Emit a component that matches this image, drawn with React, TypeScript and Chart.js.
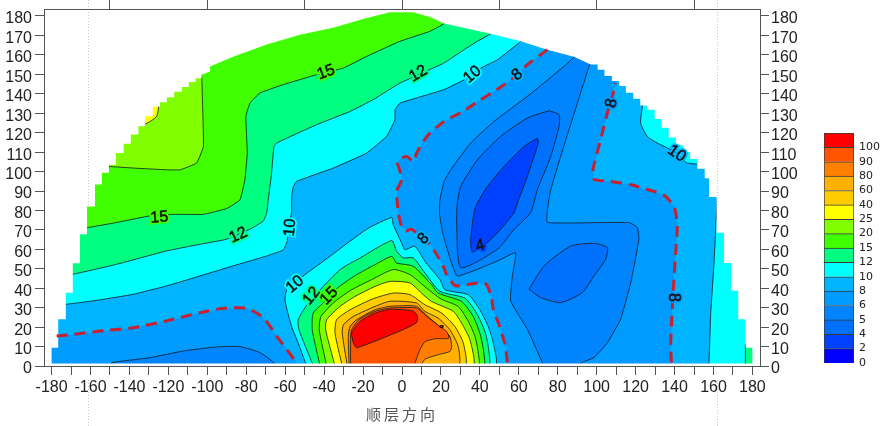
import React, { useEffect, useRef } from "react";
import { Chart, registerables } from "chart.js";

Chart.register(...registerables);

type P = [number, number];

const xTickValues = [-180,-170,-160,-150,-140,-130,-120,-110,-100,-90,-80,-70,-60,-50,-40,-30,-20,-10,0,10,20,30,40,50,60,70,80,90,100,110,120,130,140,150,160,170,180];
const yTickValues = [0,10,20,30,40,50,60,70,80,90,100,110,120,130,140,150,160,170,180];
const topTickValues = [-150,-100,-50,0,50,100,150];
const xTitle = "顺层方向";

const legendLabels = ["0","2","4","5","6","8","10","12","15","20","25","40","60","80","90","100"];
const legendColors = ["#0000ff","#0040ff","#0070ff","#0085ff","#009bff","#00b4ff","#00ffff","#00ff80","#40ff00","#80ff00","#ffff00","#ffcc00","#ffb000","#ff8000","#ff5500","#ff0000"];
const bandValues = legendLabels.map(() => 1);

const C2 = "#0040ff", C4 = "#0070ff", C5 = "#0085ff", C6 = "#009bff", C8 = "#00b4ff", C10 = "#00ffff",
  C12 = "#00ff80", C15 = "#40ff00", C20 = "#80ff00", C25 = "#ffff00", C40 = "#ffcc00", C60 = "#ffb000",
  C80 = "#ff8000", C90 = "#ff5500", C100 = "#ff0000";

const domeOutline: P[] = [[-180,1.3],[-180,9.4],[-176.6,9.4],[-176.6,24],[-172.7,24],[-172.7,37.7],[-169.1,37.7],[-169.1,52.8],[-165.4,52.8],[-165.4,67.7],[-161.8,67.7],[-161.8,82],[-157.7,82],[-157.7,93.3],[-154.2,93.3],[-154.2,99.4],[-150.5,99.4],[-150.5,103.5],[-146.9,103.5],[-146.9,109.6],[-143,109.6],[-143,114.3],[-139.3,114.3],[-139.3,119],[-135.4,119],[-135.4,123.3],[-132,123.3],[-132,128.4],[-128,128.4],[-128,133.3],[-124.3,133.3],[-124.3,135.6],[-120.8,135.6],[-120.8,138.2],[-117,138.2],[-117,141],[-113,141],[-113,143.5],[-109.5,143.5],[-109.5,146],[-106,146],[-106,148],[-102.9,148],[-102.9,149.8],[-98.6,151.5],[-98.6,154],[-86.8,159],[-69.5,165.3],[-52.4,170.4],[-35.4,173.9],[-18.1,179],[-6.2,181.9],[5.7,181.9],[14.4,179.5],[21.6,176.1],[45.5,170.9],[61,167],[74.6,162.7],[88.3,159],[96.9,155],[100.5,155],[100.5,152.3],[104,152.3],[104,149.2],[107.8,149.2],[107.8,146.6],[111.5,146.6],[111.5,144],[115,144],[115,140.5],[118.8,140.5],[118.8,137.4],[122.4,137.4],[122.4,134],[126,134],[126,131.8],[129.8,131.8],[129.8,127],[133.4,127],[133.4,122.5],[137,122.5],[137,117.5],[140.7,117.5],[140.7,113.5],[144.4,113.5],[144.4,110],[148,110],[148,106.5],[151.7,106.5],[151.7,101.5],[155.5,101.5],[155.5,96.5],[157.7,96.5],[157.7,86.9],[161.6,86.9],[161.6,68.5],[165.4,68.5],[165.4,53],[169.1,53],[169.1,38.7],[172.7,38.7],[172.7,24],[176.5,24],[176.5,9.4],[180,9.4],[180,1.3]];

const dash8Left: P[] = [[-177.4,15.4],[-168.8,16.3],[-155.1,18],[-138,19.7],[-120.9,23.2],[-103.8,27.4],[-91.8,29.7],[-79.8,29.7],[-71.2,24.9],[-64.4,15.4],[-59.3,8.6],[-54.1,1.7]];
const dash8Centre: P[] = [[74.7,162.7],[64.4,155],[59.3,149.8],[50.7,143.5],[40.4,136.9],[30.2,130.4],[21.6,125.8],[14.3,119.8],[11,115.5],[7.5,109.5],[5.8,105.2],[2.4,107.8],[-1,106.4],[-2.4,104.4],[-1.5,101.8],[-0.2,95.8],[-2.8,89.8],[-2.4,83.8],[-1.9,78.6],[-0.2,72],[2,69.5],[4.9,70.3],[14.4,62.4],[17.8,57.3],[21.2,51.3],[22.9,47],[27.2,41.3],[33.2,41.8],[39.2,42.7],[43.5,41.8],[46,35],[46.9,29],[49.5,22.1],[51.2,17],[52.9,11],[53.8,5],[54.1,1.7]];
const dash8Right: P[] = [[138.4,1.7],[138,10.3],[138.4,20.6],[139.7,44.6],[140.6,58.3],[141.4,72],[140.6,78.9],[139.7,82.1],[135.5,87.2],[129.5,89.8],[117.5,93.2],[107.2,94.9],[98.6,96.1],[98.1,100.9],[102.9,119.8],[105.5,130.1],[108.1,138.7],[109.8,145.5]];

const region8Left: P[] = [[-184,15.4],...dash8Left,[-53,0],[-184,0]];
const region8Main: P[] = [...dash8Centre,[54.1,0],[138.4,0],...dash8Right,[111,155],[80,172]];
const region6Left: P[] = [[-149.1,0],[-149.1,1.7],[-129.5,4.3],[-112.3,7.7],[-95.2,9.8],[-83.2,9.9],[-73,6.9],[-65.8,1.7],[-65,0]];
const region6Main: P[] = [[90,165],[88.4,158.9],[78.1,149.8],[64.4,138.7],[47.3,125.8],[35.3,114.7],[25,100.9],[21.6,94.9],[19.5,85.5],[19.3,78],[21,68],[24.5,56],[28.3,46.3],[38.7,49.7],[49,54],[58.4,58.3],[56.7,46.3],[55.8,33.5],[64.4,18.9],[72.1,1.7],[72.5,0],[91,0],[92.1,1.7],[98.6,4.3],[105.5,12],[112.3,24],[117.5,42.9],[121.7,65.2],[120.9,71.2],[116.6,73.8],[74.7,73.8],[74.7,80.4],[76.4,90.6],[81.5,107.8],[90.1,135.2],[96.4,155],[100,162]];
const region5Centre: P[] = [[75.5,131.3],[80.7,129.2],[80.7,123.2],[76.4,107.8],[69.5,90.6],[66.1,78.9],[57.6,70.3],[49,60],[30.2,50.6],[28.1,72],[28.4,83.8],[30.2,92.4],[38.7,106],[50.7,118.1],[64.4,127.5]];
const region5Lobe: P[] = [[65.3,39.5],[73,51.5],[86.7,61.7],[98.6,63.1],[105.5,60.9],[104.6,54.9],[98.6,46.3],[92.6,37.7],[81.5,32.6],[71.2,35.2]];
const region4Core: P[] = [[69.5,117.2],[70,114.7],[64.4,97.5],[59.3,83.8],[57.6,78.9],[50.7,70.3],[43.9,63.5],[36.2,58.7],[35.3,63.5],[36.2,73.8],[37.9,82.1],[43.9,92.4],[52.4,102.6],[62.7,112.9]];

const upper10: P[] = [[-183,31],[-172.8,31.7],[-155.1,34],[-138,36.9],[-120.9,41.2],[-103.8,46.3],[-86.7,51.5],[-69.5,56.6],[-61,59.7],[-58.9,64.3],[-58.9,70.3],[-56.7,78.9],[-56.7,87.2],[-55.8,92.4],[-54.1,95],[-35.3,101.8],[-18.2,109.5],[-7.9,118.1],[-3.6,126.7],[-3.6,131.8],[-1,135.2],[21.5,142.1],[31.9,147.2],[40.4,153.2],[49,157.5],[61,167],[66,175],[-30,182.6],[-183,150]];
const upper12: P[] = [[-183,47],[-169.2,47.2],[-146.6,52.3],[-120.9,59.2],[-103.8,62.6],[-90.1,65.2],[-78.1,70.3],[-71.2,74.6],[-69.5,78.9],[-68.7,85.5],[-67,99.2],[-65.8,112.9],[-64.4,114.7],[-43.9,124.1],[-26.7,130.9],[-14.8,137],[-1,145.5],[21.5,155.8],[31.9,162.7],[38.7,167],[45.6,170.9],[50,176],[-30,182.6],[-183,150]];
const upper15: P[] = [[-183,71],[-161.6,71.2],[-146.6,73.8],[-129.5,77.2],[-117.5,78],[-102,78],[-90,81],[-83.2,85.5],[-80.7,95.8],[-79.5,109.5],[-80.2,128.4],[-78.1,135.2],[-73,140.4],[-61,144.7],[-43.9,149.8],[-30.2,153.2],[-18.2,159.2],[-1,167],[14.3,172.1],[21.5,176],[28,183],[-30,183],[-183,150]];
const upper20: P[] = [[-183,102.6],[-150.5,102.6],[-138,101.8],[-120.9,100.9],[-114,100.9],[-105.5,104.4],[-102,112.9],[-102.9,149.8],[-102.9,165],[-183,150]];
const upper25: P[] = [[-125,140],[-125,133.5],[-126,128.4],[-129,126],[-131.7,124.6],[-140,125],[-140,140]];
const right10Top: P[] = [[123.5,140],[123.5,133.9],[122.6,125],[126,118.1],[131.2,114.6],[135.4,112.6],[141.4,109.2],[146.6,104.4],[160,105],[160,140]];
const right10Low: P[] = [[157.5,0],[157.7,1.7],[158.6,27.4],[160.3,53.2],[161.6,78.9],[162,86],[183,86],[183,0]];
const right12Low: P[] = [[176.2,0],[176.4,11],[183,11],[183,0]];

const hump10: P[] = [[-49,0],[-53.3,11.8],[-56.7,20.3],[-60.1,34],[-59,39.5],[-49.8,47],[-37,56.4],[-18.2,70.3],[-5.3,76.3],[-4.5,72.7],[-0.2,63.3],[1.5,59.8],[6.6,61.6],[11.8,53.8],[19.5,44.4],[22.1,39.2],[34.1,36.6],[40,28.9],[44.3,20.3],[46.9,11.8],[47.8,0]];
const hump12: P[] = [[-45.5,0],[-52.9,18.6],[-53.3,23.8],[-48.1,32.4],[-31.9,49.5],[-21.6,55.5],[-5.3,64.5],[-2.8,59],[0.7,55.6],[5.8,55.6],[11.8,47.8],[19.5,38.4],[32.3,34.9],[38.3,27.2],[42.6,17.8],[44.3,10],[44.3,0]];
const hump15: P[] = [[-42.1,0],[-46.1,18.6],[-45.6,27.2],[-39.6,33.2],[-34.4,39.2],[-24.1,46.5],[-15,51.5],[-5.3,56.4],[-2.8,53],[5.8,51.3],[15.2,41.8],[18.6,37.5],[30.6,33.2],[36.6,25.5],[40,16.9],[41.8,8.3],[41.8,0]];
const hump20: P[] = [[-38.7,0],[-42.5,18.6],[-41.6,25.5],[-34.4,33.2],[-25.9,39.2],[-15.6,44.4],[-4.5,49.6],[4.1,47],[12.6,40.1],[20,34.5],[28.9,30.6],[34.1,22.9],[37.5,15.2],[39.2,6.6],[39.2,0]];
const hump25: P[] = [[-34.4,0],[-39.2,18.6],[-38.7,23.8],[-31.9,30.6],[-24.1,35.8],[-13.9,40.9],[-6.2,43.5],[4.1,42.7],[10.9,36.7],[15.2,33.2],[26.4,28.1],[30.6,22.1],[34.9,13.5],[36.3,0]];
const hump40: P[] = [[-30.7,0],[-34.4,16.9],[-33.6,23.8],[-26.7,28.9],[-14.8,34.6],[-4.5,37.5],[4.1,36.7],[11.8,31.5],[20.4,27.2],[27.2,20.3],[31.5,11.8],[32.3,0]];
const hump60: P[] = [[-28.1,0],[-30.7,16.9],[-30.1,21.2],[-25,25.5],[-13.9,30.6],[-6.2,33.3],[7.5,32.4],[11.8,28.1],[18.6,24.6],[24.6,18.6],[28.9,10],[28.9,0]];
const hump80: P[] = [[-27.2,0],[-27.6,15.2],[-26.7,20.3],[-23.3,23.8],[-13.9,28.9],[-6.2,30.7],[7.5,30.7],[12.7,26],[21.2,18.6],[24.6,15.2],[25.5,10],[24.6,7.5],[18.6,5.8],[11.8,3.5],[9,0]];
const hump90: P[] = [[-26.4,0],[-26.4,13.5],[-25.9,18.6],[-22.1,23.8],[-13.9,28.1],[-6.2,29.8],[7.5,29.8],[12.7,25.5],[19.5,20.3],[22.9,17.8],[24.1,14.3],[16.9,14],[11.8,12.5],[9.2,8.4],[6.7,1.7],[6,0]];
const hump100: P[] = [[-25,11.8],[-25.9,16.9],[-21.6,22.9],[-13.9,27.2],[-6.2,29.2],[5.8,28.3],[7.9,25.7],[7.5,22.3],[-1,18],[-23.3,9.4]];
const humpSpot: P[] = [[19.5,20.8],[21,20.8],[21,19.8],[19.5,19.8]];

const labelTexts = ["15","12","10","8","8","10","15","12","10","10","12","15","8","4","8"];
const labelX = [-39,8.4,36.2,59.3,107.7,141.1,-124.7,-84.1,-57.5,-55,-46.4,-37.4,11,40.1,139.2];
const labelY = [151,150.3,149.8,149.8,135.2,109.2,76.3,67.2,71.2,42,36,36,65.5,61.8,35.2];
const labelAngle = [-20,-30,-40,-40,-78,35,-5,-25,-85,-40,-50,-45,-45,-15,90];
const labelBack = [C15,C12,C10,C8,C6,C8,C15,C12,C10,C10,C12,C15,C8,C2,C6];

const guideX = [-161.5, 161.6];
const guideTopY = 82;

const FONT = "'Liberation Sans', Arial, sans-serif";
const pts = (a: P[]) => a.map(([x, y]) => ({ x, y }));

const poly = (a: P[], color: string, line = true, tension = 0.2) => ({
  type: "scatter" as const,
  data: pts(line ? a.concat([a[0]]) : a),
  showLine: true,
  fill: "shape",
  tension: line ? tension : 0,
  backgroundColor: color,
  borderColor: "#101820",
  borderWidth: line ? 0.8 : 0,
  pointRadius: 0,
  pointHoverRadius: 0,
});

const dash = (a: P[]) => ({
  type: "scatter" as const,
  data: pts(a),
  showLine: true,
  fill: false,
  tension: 0.2,
  borderColor: "#c8202f",
  borderWidth: 3,
  borderDash: [11, 7],
  pointRadius: 0,
  pointHoverRadius: 0,
});

const plotBack: P[] = [[-183,0],[-183,183],[183,183],[183,0]];
const outsideMask: P[] = [[-184,-1],[-184,185],[185,185],[185,-1],[180,1.3],...[...domeOutline].reverse(),[180,1.3],[185,-1]];

const labelPlugin = {
  id: "contourLabels",
  afterDatasetsDraw(chart: any) {
    const { ctx, scales } = chart;
    ctx.save();
    ctx.strokeStyle = "#c4c8cc";
    ctx.lineWidth = 1;
    ctx.setLineDash([1, 2]);
    guideX.forEach((v) => {
      const px = Math.round(scales.x.getPixelForValue(v)) + 0.5;
      ctx.beginPath();
      ctx.moveTo(px, 0);
      ctx.lineTo(px, scales.y.getPixelForValue(guideTopY));
      ctx.moveTo(px, 380);
      ctx.lineTo(px, 426);
      ctx.stroke();
    });
    ctx.setLineDash([]);
    ctx.font = `16px ${FONT}`;
    ctx.textAlign = "center";
    ctx.textBaseline = "middle";
    labelTexts.forEach((t, i) => {
      ctx.save();
      ctx.translate(scales.x.getPixelForValue(labelX[i]), scales.y.getPixelForValue(labelY[i]));
      ctx.rotate((labelAngle[i] * Math.PI) / 180);
      ctx.strokeStyle = labelBack[i];
      ctx.lineWidth = 4;
      ctx.strokeText(t, 0, 0);
      ctx.strokeStyle = "#111";
      ctx.lineWidth = 0.5;
      ctx.strokeText(t, 0, 0);
      ctx.fillStyle = "#111";
      ctx.fillText(t, 0, 0);
      ctx.restore();
    });
    ctx.restore();
  },
};

const fixed = (prop: "width" | "height", size: number) => (s: any) => {
  s[prop] = size;
  s.paddingTop = 0;
  s.paddingBottom = 0;
  s.paddingLeft = 0;
  s.paddingRight = 0;
};
const setTicks = (vals: number[]) => (s: any) => { s.ticks = vals.map((value) => ({ value })); };
const shiftLabels = (s: any, dy: number) => {
  const orig = s.drawLabels;
  s.drawLabels = function (area: any) {
    s.ctx.save();
    s.ctx.translate(0, dy);
    orig.call(s, area);
    s.ctx.restore();
  };
};
const spacedTitle = (s: any) => {
  const orig = s.drawTitle;
  s.drawTitle = function () {
    const c = s.ctx;
    c.letterSpacing = "3px";
    orig.call(s);
    c.letterSpacing = "0px";
  };
  shiftLabels(s, 1);
};
const axisGrid = { drawOnChartArea: false, drawTicks: true, tickLength: 9, color: "#555", tickWidth: 1, z: 1 };
const axisBorder = { display: true, color: "#555", width: 1, z: 1 };
const tickFont = { family: FONT, size: 16 };

export default function App() {
  const mainRef = useRef<HTMLCanvasElement>(null);
  const barRef = useRef<HTMLCanvasElement>(null);

  useEffect(() => {
    const layers = [
      poly(plotBack, C8, false),
      poly(region8Left, C6, false),
      poly(region6Left, C5),
      poly(region8Main, C6, false),
      poly(region6Main, C5, true, 0.12),
      poly(region5Centre, C4),
      poly(region5Lobe, C4),
      poly(region4Core, C2),
      poly(upper10, C10, true, 0.1),
      poly(upper12, C12, true, 0.1),
      poly(upper15, C15, true, 0.1),
      poly(upper20, C20, true, 0.1),
      poly(upper25, C25),
      poly(right10Top, C10),
      poly(right10Low, C10, true, 0),
      poly(right12Low, C12, true, 0),
      poly(hump10, C10),
      poly(hump12, C12),
      poly(hump15, C15),
      poly(hump20, C20),
      poly(hump25, C25),
      poly(hump40, C40),
      poly(hump60, C60),
      poly(hump80, C80),
      poly(hump90, C90),
      poly(hump100, C100),
      poly(humpSpot, C100, true, 0),
      poly(outsideMask, "#ffffff", false),
      dash(dash8Left),
      dash(dash8Centre),
      dash(dash8Right),
    ].reverse();

    const main = new Chart(mainRef.current!, {
      type: "scatter",
      data: { datasets: layers as any },
      plugins: [labelPlugin],
      options: {
        animation: false,
        responsive: false,
        devicePixelRatio: 1,
        layout: { padding: 0 },
        plugins: { legend: { display: false }, tooltip: { enabled: false } },
        scales: {
          x: {
            type: "linear", position: "bottom", min: -183.9, max: 183.9,
            afterBuildTicks: setTicks(xTickValues), afterFit: fixed("height", 60), afterUpdate: spacedTitle,
            grid: axisGrid, border: axisBorder,
            ticks: {
              autoSkip: false, maxRotation: 0, padding: 2, color: "#222", font: tickFont,
              callback: (v: any) => (Number(v) % 20 === 0 ? String(v) : ""),
            },
            title: {
              display: true, text: xTitle, color: "#555", padding: { top: 0, bottom: 3 },
              font: { family: "'Noto Sans CJK SC'", size: 15 },
            },
          },
          xTop: {
            type: "linear", position: "top", min: -183.9, max: 183.9,
            afterBuildTicks: setTicks(topTickValues), afterFit: fixed("height", 9),
            grid: axisGrid, border: axisBorder, ticks: { display: false, autoSkip: false },
          },
          y: {
            type: "linear", position: "left", min: 0, max: 183.6,
            afterBuildTicks: setTicks(yTickValues), afterFit: fixed("width", 44),
            afterUpdate: (s: any) => shiftLabels(s, 1.5),
            grid: axisGrid, border: axisBorder,
            ticks: { autoSkip: false, padding: 3, color: "#222", font: tickFont, callback: (v: any) => String(v) },
          },
          yRight: {
            type: "linear", position: "right", min: 0, max: 183.6,
            afterBuildTicks: setTicks(yTickValues), afterFit: fixed("width", 128),
            afterUpdate: (s: any) => shiftLabels(s, 1.5),
            grid: axisGrid, border: axisBorder,
            ticks: { autoSkip: false, padding: 2, color: "#222", font: tickFont, callback: (v: any) => String(v) },
          },
        },
      } as any,
    });

    const bar = new Chart(barRef.current!, {
      type: "bar",
      data: {
        labels: [""],
        datasets: bandValues.map((v, i) => ({
          data: [v],
          backgroundColor: legendColors[i],
          borderColor: "#3a3a3a",
          borderWidth: 1,
          categoryPercentage: 1,
          barPercentage: 1,
        })),
      },
      options: {
        animation: false,
        responsive: false,
        devicePixelRatio: 1,
        layout: { padding: { left: 1, top: 8, bottom: 8, right: 0 } },
        plugins: { legend: { display: false }, tooltip: { enabled: false } },
        scales: {
          x: { stacked: true, display: false },
          y: {
            stacked: true, position: "right", min: 0, max: legendLabels.length,
            afterFit: fixed("width", 34),
            grid: { display: false, drawTicks: false },
            border: { display: false },
            ticks: {
              stepSize: 1, autoSkip: false, padding: 5, color: "#222",
              font: { family: "'DejaVu Sans'", size: 11 },
              callback: (v: any) => legendLabels[Number(v)] ?? "",
            },
          },
        },
      } as any,
    });

    return () => { main.destroy(); bar.destroy(); };
  }, []);

  return (
    <div style={{ position: "absolute", left: 0, top: 0, width: 888, height: 426, background: "#fff", overflow: "hidden" }}>
      <canvas ref={mainRef} width={888} height={426} style={{ position: "absolute", left: 0, top: 0 }} />
      <canvas ref={barRef} width={65} height={246} style={{ position: "absolute", left: 823, top: 125 }} />
    </div>
  );
}
